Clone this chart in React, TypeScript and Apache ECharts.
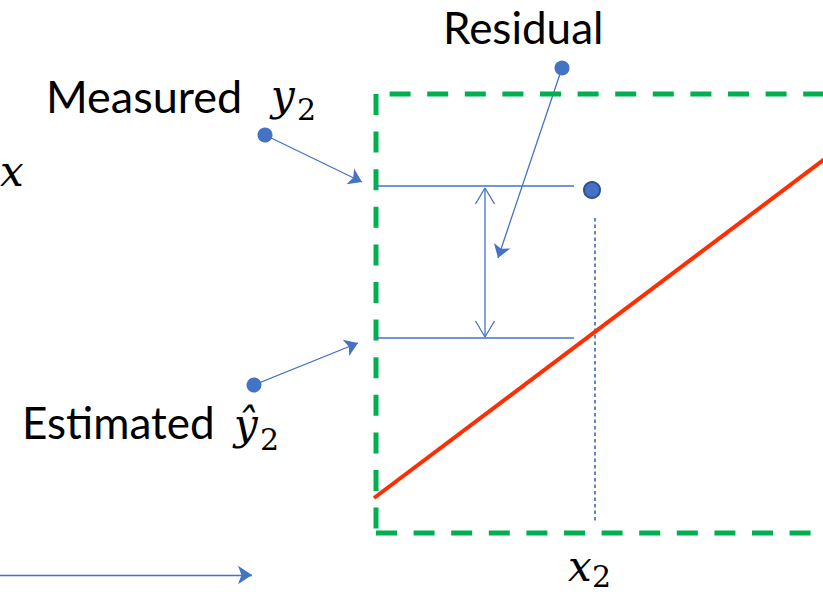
import React, { useEffect, useRef } from "react";
import * as echarts from "echarts";

const W = 823;
const H = 594;

// Diagram data (hidden axes: x 0..823, y 0..594 downward)
const fitLine: number[][] = [[374, 498], [830, 155]];
const measuredPoint: number[][] = [[592, 190]];
const measuredLevel: number[][] = [[376, 186], [574, 186]];
const estimatedLevel: number[][] = [[376, 338], [574, 338]];
const dropLine: number[][] = [[595, 218], [595, 521]];
const residualSpanX = 485;
const residualSpanY: number[] = [188, 337];
const frameTopEdge: number[][] = [[376, 94], [840, 94]];
const frameLeftEdge: number[][] = [[376, 94], [376, 533]];
const frameBottomEdge: number[][] = [[376, 533], [840, 533]];
const calloutNames: string[] = ["Measured", "Estimated", "Residual"];
const calloutFrom: number[][] = [[265, 135], [254, 385], [562, 68]];
const calloutTo: number[][] = [[362, 182], [358, 343], [498, 258]];
const xArrow: number[][] = [[-10, 575], [252, 575]];

const BLUE = "#4472C4";
const GREEN = "#00B050";
const RED = "#FF2D00";

function openHead(apex: number[], dir: number): number[][] {
  // open V arrow head, dir = +1 pointing down, -1 pointing up
  const len = 16;
  const half = 9.5;
  return [
    [apex[0] - half, apex[1] - dir * len],
    apex,
    [apex[0] + half, apex[1] - dir * len],
  ];
}

export default function App() {
  const ref = useRef<HTMLDivElement>(null);
  useEffect(() => {
    if (!ref.current) return;
    const chart = echarts.init(ref.current, undefined, { renderer: "svg" });
    const thin = { color: BLUE, width: 1.3 };
    const lineBase = {
      type: "line" as const,
      symbol: "none",
      silent: true,
      clip: true,
    };
    const topApex = [residualSpanX, residualSpanY[0]];
    const botApex = [residualSpanX, residualSpanY[1]];
    const sans = "Lato, 'Noto Sans', sans-serif";
    const math = "'DejaVu Serif', 'Liberation Serif', serif";
    const option: any = {
      animation: false,
      backgroundColor: "#ffffff",
      grid: { left: 0, right: 0, top: 0, bottom: 0 },
      xAxis: { type: "value", min: 0, max: W, show: false },
      yAxis: { type: "value", min: 0, max: H, inverse: true, show: false },
      series: [
        { ...lineBase, data: frameTopEdge, lineStyle: { color: GREEN, width: 5, type: [21, 16.6], dashOffset: 23.6 } },
        { ...lineBase, data: frameLeftEdge, lineStyle: { color: GREEN, width: 5, type: [21, 16.6], dashOffset: 0 } },
        { ...lineBase, data: frameBottomEdge, lineStyle: { color: GREEN, width: 5, type: [21, 16.6], dashOffset: 0 } },
        { ...lineBase, data: measuredLevel, lineStyle: thin },
        { ...lineBase, data: estimatedLevel, lineStyle: thin },
        { ...lineBase, data: [topApex, botApex], lineStyle: thin },
        { ...lineBase, data: openHead(topApex, -1), lineStyle: thin },
        { ...lineBase, data: openHead(botApex, 1), lineStyle: thin },
        { ...lineBase, data: dropLine, lineStyle: { color: "#5B85D0", width: 2, type: [3.5, 3] } },
        { ...lineBase, data: fitLine, lineStyle: { color: RED, width: 4 } },
        {
          type: "lines",
          coordinateSystem: "cartesian2d",
          silent: true,
          symbol: ["circle", "arrow"],
          symbolSize: [15, 13],
          lineStyle: { color: BLUE, width: 1.3, opacity: 1 },
          itemStyle: { color: BLUE },
          data: calloutNames.map((n, i) => ({ name: n, coords: [calloutFrom[i], calloutTo[i]] })),
        },
        {
          type: "lines",
          coordinateSystem: "cartesian2d",
          silent: true,
          symbol: ["none", "arrow"],
          symbolSize: [0, 14],
          lineStyle: { color: BLUE, width: 1.3, opacity: 1 },
          data: [{ coords: xArrow }],
        },
        {
          type: "scatter",
          silent: true,
          symbol: "circle",
          symbolSize: 16,
          itemStyle: { color: BLUE, borderColor: "#2F528F", borderWidth: 2, opacity: 1 },
          data: measuredPoint,
        },
      ],
      graphic: [
        { type: "text", left: 443, top: 5, style: { text: "Residual", font: `44px ${sans}`, fill: "#000" } },
        { type: "text", left: 46, top: 73, style: { text: "Measured", font: `45px ${sans}`, fill: "#000" } },
        { type: "text", left: 271, top: 74, style: { text: "y", font: `italic 42px ${math}`, fill: "#000" } },
        { type: "text", left: 297, top: 94, style: { text: "2", font: `30px ${math}`, fill: "#000" } },
        { type: "text", left: 0, top: 150, style: { text: "x", font: `italic 42px ${math}`, fill: "#000" } },
        { type: "text", left: 22, top: 400, style: { text: "Estimated", font: `44px ${sans}`, fill: "#000" } },
        { type: "text", left: 234, top: 403, style: { text: "\u0177", font: `italic 42px ${math}`, fill: "#000" } },
        { type: "text", left: 260, top: 424, style: { text: "2", font: `30px ${math}`, fill: "#000" } },
        { type: "text", left: 568, top: 545, style: { text: "x", font: `italic 42px ${math}`, fill: "#000" } },
        { type: "text", left: 592, top: 561, style: { text: "2", font: `30px ${math}`, fill: "#000" } },
      ],
    };
    chart.setOption(option);
    return () => chart.dispose();
  }, []);
  return (
    <div
      ref={ref}
      style={{ position: "absolute", left: 0, top: 0, width: W, height: H }}
    />
  );
}
